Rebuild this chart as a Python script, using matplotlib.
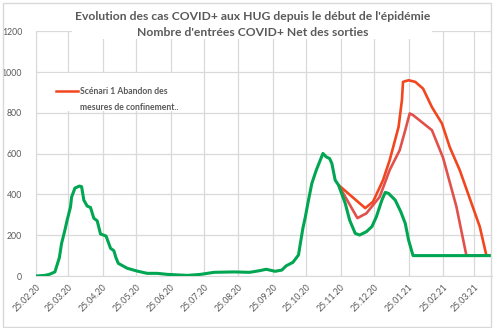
import matplotlib
matplotlib.use("Agg")
import matplotlib.pyplot as plt
from matplotlib.patches import Rectangle
import numpy as np

# Net COVID+ admissions at HUG (observed series)
obs_dates = ["2020-02-25", "2020-03-04", "2020-03-08", "2020-03-13", "2020-03-15", "2020-03-17",
             "2020-03-19", "2020-03-22", "2020-03-24", "2020-03-27", "2020-03-28", "2020-03-31",
             "2020-04-04", "2020-04-06", "2020-04-08", "2020-04-11", "2020-04-14", "2020-04-17",
             "2020-04-20", "2020-04-23", "2020-04-28", "2020-05-02", "2020-05-05", "2020-05-07",
             "2020-05-09", "2020-05-17", "2020-05-26", "2020-06-04", "2020-06-13", "2020-06-22",
             "2020-07-10", "2020-07-22", "2020-08-03", "2020-08-21", "2020-09-04", "2020-09-13",
             "2020-09-19", "2020-09-27", "2020-10-03", "2020-10-07", "2020-10-13", "2020-10-18",
             "2020-10-20", "2020-10-22", "2020-10-24", "2020-10-27", "2020-10-30", "2020-11-03",
             "2020-11-06", "2020-11-09", "2020-11-12", "2020-11-15", "2020-11-17", "2020-11-20",
             "2020-11-23", "2020-11-29", "2020-12-03", "2020-12-08", "2020-12-12", "2020-12-18",
             "2020-12-23", "2020-12-27", "2021-01-01", "2021-01-04", "2021-01-07", "2021-01-13",
             "2021-01-18", "2021-01-22", "2021-01-25", "2021-01-29", "2021-04-10"]
obs_values = [0, 3, 8, 20, 55, 90,
              160, 225, 274, 338, 387, 431,
              441, 438, 372, 343, 336, 283,
              271, 206, 196, 136, 124, 88,
              62, 38, 24, 13, 13, 8,
              3, 8, 18, 20, 18, 26,
              33, 23, 29, 50, 67, 103,
              170, 235, 285, 372, 454, 519,
              560, 601, 584, 576, 552, 470,
              446, 357, 274, 209, 201, 217,
              242, 290, 372, 410, 405, 372,
              315, 258, 176, 100, 100]

# Scenario 1: lifting of confinement measures (high variant)
high_dates = ["2020-11-23", "2020-12-17", "2020-12-24", "2021-01-02", "2021-01-08", "2021-01-16",
              "2021-01-19", "2021-01-20", "2021-01-25", "2021-01-31", "2021-02-07", "2021-02-15",
              "2021-02-24", "2021-03-03", "2021-03-12", "2021-03-30", "2021-04-05", "2021-04-10"]
high_values = [446, 333, 364, 470, 568, 731,
               862, 952, 960, 952, 919, 828,
               748, 632, 519, 242, 100, 100]

# Scenario 1: lower variant
low_dates = ["2020-11-23", "2020-12-10", "2020-12-18", "2020-12-30", "2021-01-08", "2021-01-17",
             "2021-01-22", "2021-01-26", "2021-01-29", "2021-02-15", "2021-02-25", "2021-03-09",
             "2021-03-18", "2021-04-10"]
low_values = [446, 284, 307, 388, 520, 617,
              715, 797, 789, 715, 580, 340,
              100, 100]

tick_dates = ["2020-02-25", "2020-03-25", "2020-04-25", "2020-05-25", "2020-06-25", "2020-07-25",
              "2020-08-25", "2020-09-25", "2020-10-25", "2020-11-25", "2020-12-25", "2021-01-25",
              "2021-02-25", "2021-03-25"]
y_ticks = [0, 200, 400, 600, 800, 1000, 1200]

title_lines = ["Evolution des cas COVID+ aux HUG depuis le début de l'épidémie",
               "Nombre d'entrées COVID+ Net des sorties"]
legend_lines = ["Scénari 1 Abandon des", "mesures de confinement.."]

GREEN = "#00A651"
ORANGE = "#F2461E"
PINK = "#E2504C"
GRID = "#D9D9D9"
TEXT = "#595959"

plt.rcParams["font.family"] = ["Lato", "DejaVu Sans"]

W, H = 494, 328
fig = plt.figure(figsize=(W / 100, H / 100), dpi=100)

def fx(px):
    return px / W

def fy(py):
    return 1 - py / H

ax = fig.add_axes([fx(36), fy(276), fx(492) - fx(36), fy(31.3) - fy(276)])

to_dt = lambda seq: np.array(seq, dtype="datetime64[D]")

ax.plot(to_dt(high_dates), high_values, color=ORANGE, lw=1.9, zorder=3,
        solid_capstyle="round", solid_joinstyle="round")
ax.plot(to_dt(low_dates), low_values, color=PINK, lw=1.9, zorder=3,
        solid_capstyle="round", solid_joinstyle="round")
ax.plot(to_dt(obs_dates), obs_values, color=GREEN, lw=2.2, zorder=4,
        solid_capstyle="round", solid_joinstyle="round")

ax.set_xlim(np.datetime64("2020-02-25"), np.datetime64("2021-04-10"))
ax.set_ylim(0, 1200)

ticks = to_dt(tick_dates)
ax.set_xticks(ticks)
ax.set_xticklabels([str(t)[8:10] + "." + str(t)[5:7] + "." + str(t)[2:4] for t in ticks],
                   rotation=45, ha="right", va="top", rotation_mode="anchor",
                   fontsize=6.3, color=TEXT)
ax.set_yticks(y_ticks)
ax.set_yticklabels([str(v) for v in y_ticks], fontsize=6.3, color=TEXT)
ax.tick_params(axis="both", length=0)
ax.tick_params(axis="y", pad=10)
ax.tick_params(axis="x", pad=5)

ax.grid(True, color=GRID, lw=0.9)
ax.set_axisbelow(True)
for side in ["top", "right"]:
    ax.spines[side].set_visible(False)
ax.spines["left"].set_color(GRID)
ax.spines["bottom"].set_color(GRID)

# outer chart frame
fig.patches.append(Rectangle((fx(3), fy(326.5)), fx(491) - fx(3), fy(3) - fy(326.5),
                             transform=fig.transFigure, fill=False, edgecolor=GRID, lw=1.0,
                             zorder=1))

# white title area
fig.patches.append(Rectangle((fx(72), fy(39)), fx(432) - fx(72), fy(5) - fy(39),
                             transform=fig.transFigure, facecolor="white", edgecolor="none",
                             zorder=5))
fig.text(fx(252.5), fy(16), title_lines[0], ha="center", va="center", fontsize=8.7,
         fontweight="bold", color=TEXT, zorder=6)
fig.text(fx(252.5), fy(32.5), title_lines[1], ha="center", va="center", fontsize=8.7,
         fontweight="bold", color=TEXT, zorder=6)

# legend box
fig.patches.append(Rectangle((fx(40), fy(111)), fx(200) - fx(40), fy(73) - fy(111),
                             transform=fig.transFigure, facecolor="white", edgecolor="none",
                             zorder=5))
fig.add_artist(plt.Line2D([fx(56), fx(78)], [fy(91), fy(91)], transform=fig.transFigure,
                          color=ORANGE, lw=1.8, zorder=6))
fig.text(fx(80), fy(91), legend_lines[0], ha="left", va="center", fontsize=6.2,
         fontweight="bold", color=TEXT, zorder=6)
fig.text(fx(80), fy(107), legend_lines[1], ha="left", va="center", fontsize=6.2,
         fontweight="bold", color=TEXT, zorder=6)

fig.savefig("out.png", dpi=100)
